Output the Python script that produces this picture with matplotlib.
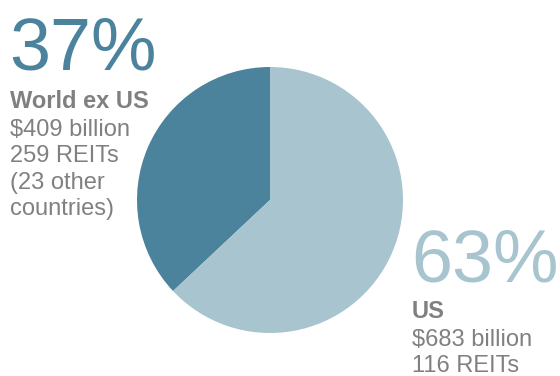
import matplotlib.pyplot as plt

plt.rcParams['font.family'] = ['Liberation Sans', 'DejaVu Sans']

# data
regions = ['World ex US', 'US']
shares = [37, 63]
pct_labels = ['37%', '63%']
colors = ['#4b839d', '#a7c4cf']
details = [['$409 billion', '259 REITs', '(23 other', 'countries)'],
           ['$683 billion', '116 REITs']]
grey = '#808080'

W, H = 560, 376
fig = plt.figure(figsize=(W / 100, H / 100), dpi=100)
ax = fig.add_axes([0, 0, 1, 1])

ax.pie(shares, colors=colors, startangle=90, counterclock=True,
       center=(270, H - 200), radius=133,
       wedgeprops=dict(linewidth=0))

ax.set_xlim(0, W)
ax.set_ylim(0, H)
ax.set_aspect('equal')
ax.axis('off')

def y(v):
    return H - v

# left block (World ex US)
ax.text(9, y(70), pct_labels[0], color=colors[0], fontsize=53, va='baseline', ha='left')
ax.text(10, y(108), regions[0], color=grey, fontsize=17, fontweight='bold', va='baseline')
for i, line in enumerate(details[0]):
    ax.text(10, y(136 + 26.5 * i), line, color=grey, fontsize=17, va='baseline')

# right block (US)
ax.text(411, y(281), pct_labels[1], color=colors[1], fontsize=53, va='baseline', ha='left')
ax.text(412, y(318), regions[1], color=grey, fontsize=17, fontweight='bold', va='baseline')
for i, line in enumerate(details[1]):
    ax.text(412, y(346 + 25.5 * i), line, color=grey, fontsize=17, va='baseline')

fig.savefig('out.png', dpi=100)
